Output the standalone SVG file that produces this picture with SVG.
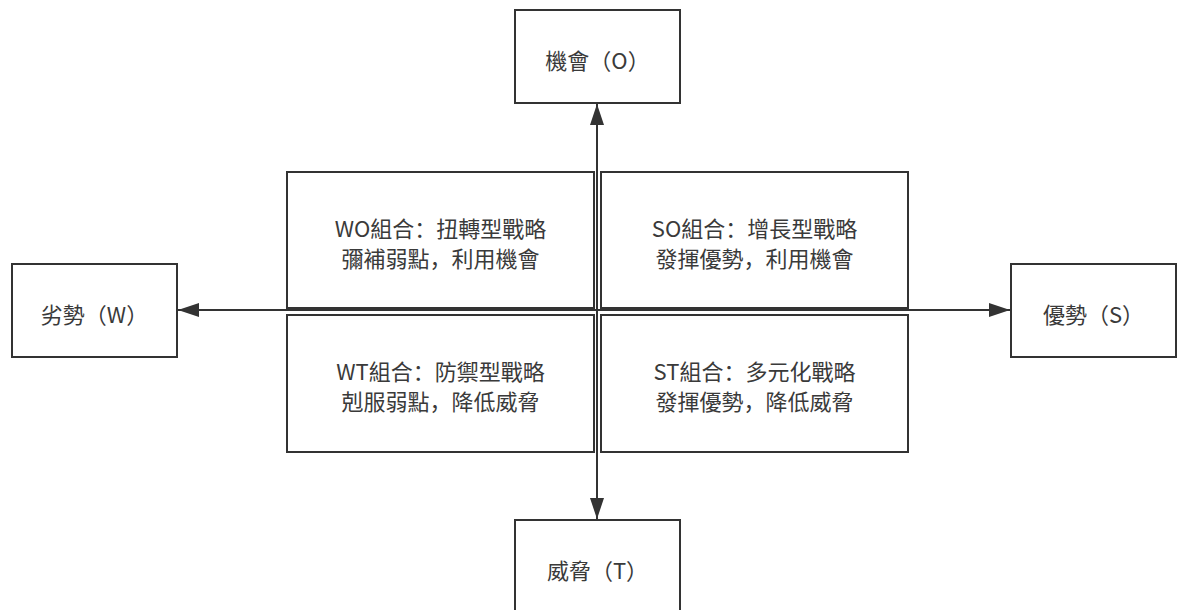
<svg xmlns="http://www.w3.org/2000/svg" width="1178" height="610" viewBox="0 0 1178 610">
<style>
.box{fill:#ffffff;stroke:#333333;stroke-width:2}
.t{font-family:"Noto Sans CJK SC","Noto Sans CJK TC",sans-serif;font-size:22px;fill:#3a3a3a;text-anchor:middle;dominant-baseline:central}
.c{stroke:#333333;stroke-width:2;fill:none}
</style>
<defs>
<marker id="ah" markerUnits="userSpaceOnUse" markerWidth="22" markerHeight="16" refX="21" refY="8" orient="auto">
<path d="M0,1 L21,8 L0,15 Z" fill="#333333"/>
</marker>
</defs>
<g id="connectors">
<line class="c" x1="597" y1="310" x2="597" y2="104" marker-end="url(#ah)"/>
<line class="c" x1="597" y1="310" x2="597" y2="519" marker-end="url(#ah)"/>
<line class="c" x1="597" y1="310" x2="178" y2="310" marker-end="url(#ah)"/>
<line class="c" x1="597" y1="310" x2="1010" y2="310" marker-end="url(#ah)"/>
</g>
<g id="wo">
<rect class="box" x="287" y="172" width="307" height="136"/>
<text class="t" x="440.5" y="227">WO組合：扭轉型戰略</text>
<text class="t" x="440.5" y="257">彌補弱點，利用機會</text>
</g>
<g id="so">
<rect class="box" x="601" y="172" width="307" height="136"/>
<text class="t" x="754.5" y="227">SO組合：增長型戰略</text>
<text class="t" x="754.5" y="257">發揮優勢，利用機會</text>
</g>
<g id="wt">
<rect class="box" x="287" y="315" width="307" height="137"/>
<text class="t" x="440.5" y="370">WT組合：防禦型戰略</text>
<text class="t" x="440.5" y="400">剋服弱點，降低威脅</text>
</g>
<g id="st">
<rect class="box" x="601" y="315" width="307" height="137"/>
<text class="t" x="754.5" y="370">ST組合：多元化戰略</text>
<text class="t" x="754.5" y="400">發揮優勢，降低威脅</text>
</g>
<g id="o">
<rect class="box" x="515" y="10" width="165" height="93"/>
<text class="t" x="597.5" y="59">機會（O）</text>
</g>
<g id="w">
<rect class="box" x="12" y="264" width="165" height="93"/>
<text class="t" x="94.5" y="313">劣勢（W）</text>
</g>
<g id="s">
<rect class="box" x="1011" y="264" width="165" height="93"/>
<text class="t" x="1093.5" y="313">優勢（S）</text>
</g>
<g id="t">
<rect class="box" x="515" y="520" width="165" height="93"/>
<text class="t" x="597.5" y="569">威脅（T）</text>
</g>
</svg>
